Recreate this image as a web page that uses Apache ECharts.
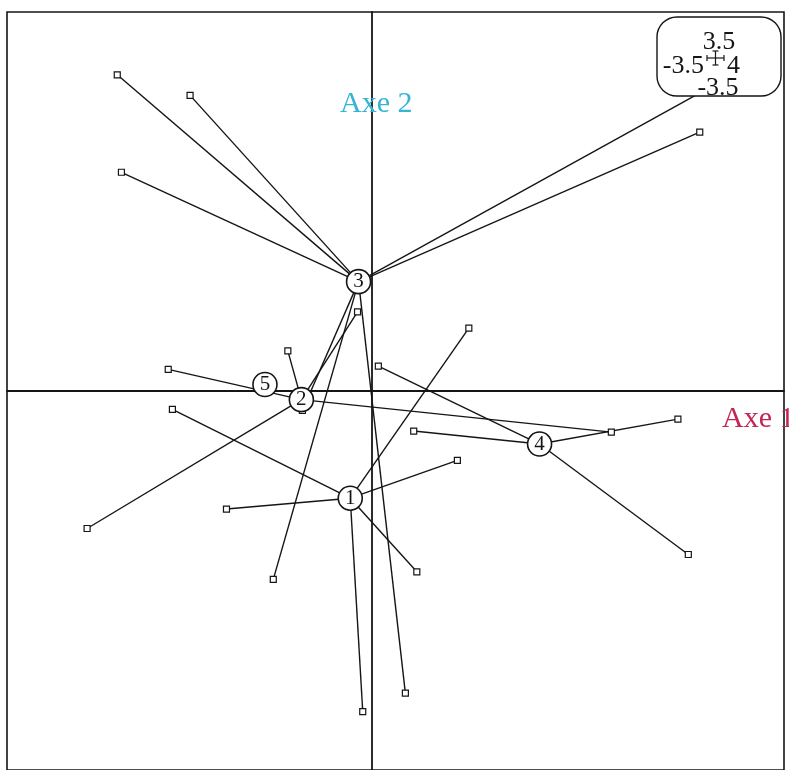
<!DOCTYPE html>
<html>
<head>
<meta charset="utf-8">
<title>Axe 1 / Axe 2</title>
<script src="https://cdn.jsdelivr.net/npm/echarts@6/dist/echarts.min.js"></script>
<style>
  html, body { margin: 0; padding: 0; background: #fff; }
  #chart { width: 789px; height: 770px; }
</style>
</head>
<body>
<div id="chart"></div>
<script>
// Factorial map: each class is drawn as a star joining its centre to its rows.
const classNames = ['1', '2', '3', '4', '5'];

// Row coordinates on Axe 1 (x) and Axe 2 (y), one pair of arrays per class
const class1X = [-1.92, -1.40, 0.82, 0.93, 0.43, -0.09];
const class1Y = [-0.17, -1.09, -0.64, 0.58, -1.67, -2.96];

const class2X = [-2.74, -0.81, -0.14, -1.96, 2.30];
const class2Y = [-1.27, 0.37, 0.73, 0.20, -0.38];

const class3X = [-2.45, -1.75, -2.41, 3.15, 3.73, -0.95, 0.32, -0.67];
const class3Y = [2.92, 2.73, 2.02, 2.39, 3.06, -1.74, -2.79, -0.18];

const class4X = [0.06, 0.40, 2.94, 3.04];
const class4Y = [0.23, -0.37, -0.26, -1.51];

const class5X = [-1.03];
const class5Y = [0.06];

// Class centres (gravity centres of the rows)
const centreX = [-0.21, -0.68, -0.13, 1.61, -1.03];
const centreY = [-0.99, -0.08, 1.01, -0.49, 0.06];

// Window limits shown in the scale box
const xLimits = [-3.51, 3.96];
const yLimits = [-3.5, 3.5];
const boxLabels = { top: '3.5', left: '-3.5', right: '4', bottom: '-3.5' };

const rowsX = [class1X, class2X, class3X, class4X, class5X];
const rowsY = [class1Y, class2Y, class3Y, class4Y, class5Y];

const starLines = [];
const rowPoints = [];
rowsX.forEach((xs, k) => {
  xs.forEach((x, i) => {
    const y = rowsY[k][i];
    starLines.push({ coords: [[centreX[k], centreY[k]], [x, y]] });
    rowPoints.push([x, y]);
  });
});
const centrePoints = classNames.map((n, k) => ({ name: n, value: [centreX[k], centreY[k]] }));

const serif = '"Liberation Serif", "DejaVu Serif", serif';
const ink = '#151515';

const chart = echarts.init(document.getElementById('chart'), null, { renderer: 'canvas' });

// scale box drawn on top of everything (it hides the far row of class 3)
const boxZ = 100;
const boxText = (text, x, y, align) => ({
  type: 'text', x, y, z: boxZ + 1,
  style: { text, fontFamily: serif, fontSize: 26, fill: ink, align, verticalAlign: 'middle' }
});
const boxLine = (x1, y1, x2, y2) => ({
  type: 'line', z: boxZ + 1, shape: { x1, y1, x2, y2 }, style: { stroke: ink, lineWidth: 1.2 }
});

chart.setOption({
  animation: false,
  backgroundColor: '#ffffff',
  grid: {
    left: 7, right: 5, top: 12, bottom: -2,
    show: true, borderColor: ink, borderWidth: 1.6, backgroundColor: 'transparent'
  },
  xAxis: {
    type: 'value', min: xLimits[0], max: xLimits[1],
    axisLine: { show: true, onZero: true, lineStyle: { color: ink, width: 1.8 } },
    axisTick: { show: false }, axisLabel: { show: false }, splitLine: { show: false }
  },
  yAxis: {
    type: 'value', min: yLimits[0], max: yLimits[1],
    axisLine: { show: true, onZero: true, lineStyle: { color: ink, width: 1.8 } },
    axisTick: { show: false }, axisLabel: { show: false }, splitLine: { show: false }
  },
  series: [
    {
      type: 'lines', coordinateSystem: 'cartesian2d', z: 2,
      lineStyle: { color: ink, width: 1.4, opacity: 1 },
      data: starLines, silent: true
    },
    {
      type: 'scatter', z: 3, symbol: 'rect', symbolSize: 6,
      itemStyle: { color: '#fff', borderColor: ink, borderWidth: 1.2, opacity: 1 },
      data: rowPoints, silent: true
    },
    {
      type: 'scatter', z: 4, symbol: 'circle', symbolSize: 24,
      itemStyle: { color: '#fff', borderColor: ink, borderWidth: 1.6, opacity: 1 },
      label: {
        show: true, position: 'inside', formatter: p => p.name,
        fontFamily: serif, fontSize: 21, color: ink
      },
      data: centrePoints, silent: true
    }
  ],
  graphic: [
    {
      type: 'text', x: 340, y: 104, z: 50,
      style: { text: 'Axe 2', fontFamily: serif, fontSize: 30, fill: '#35b4d6', verticalAlign: 'middle' }
    },
    {
      type: 'text', x: 722, y: 419, z: 50,
      style: { text: 'Axe 1', fontFamily: serif, fontSize: 30, fill: '#c42653', verticalAlign: 'middle' }
    },
    {
      type: 'rect', z: boxZ, shape: { x: 657, y: 17, width: 124, height: 79, r: 20 },
      style: { fill: '#fff', stroke: ink, lineWidth: 1.4 }
    },
    boxText(boxLabels.top, 719, 42, 'center'),
    boxText(boxLabels.left, 704, 66, 'right'),
    boxText(boxLabels.right, 727, 66, 'left'),
    boxText(boxLabels.bottom, 718, 88, 'center'),
    // small cross marking the origin inside the box
    boxLine(707, 58, 724, 58),
    boxLine(715.5, 51, 715.5, 65),
    boxLine(707, 55, 707, 61),
    boxLine(724, 55, 724, 61),
    boxLine(712.5, 51, 718.5, 51),
    boxLine(712.5, 65, 718.5, 65)
  ]
});
</script>
</body>
</html>
